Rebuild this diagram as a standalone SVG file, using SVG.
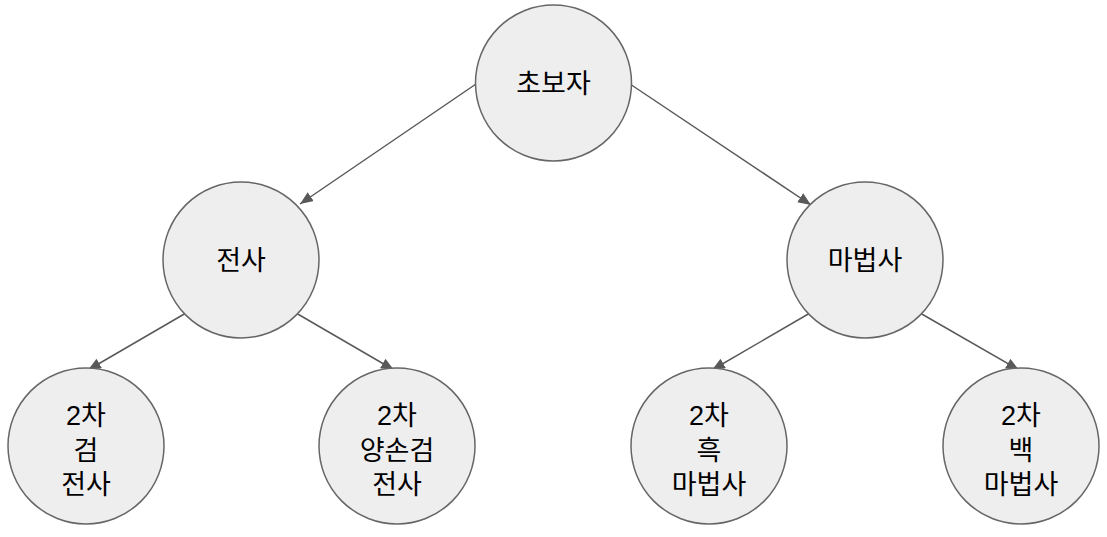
<svg xmlns="http://www.w3.org/2000/svg" width="1107" height="537" viewBox="0 0 1107 537">
<style>
.n{fill:#eeeeee;stroke:#666666;stroke-width:1.5}
.t{font-family:"Liberation Sans","Noto Sans CJK KR",sans-serif;font-size:27px;fill:#000;text-anchor:middle}
.e{stroke:#595959;stroke-width:1.5;fill:none;marker-end:url(#a)}
</style>
<defs>
<marker id="a" viewBox="0 0 12 10" refX="12" refY="5" markerWidth="13" markerHeight="11" markerUnits="userSpaceOnUse" orient="auto"><path d="M0,0L12,5L0,10z" fill="#595959"/></marker>
</defs>
<rect width="1107" height="537" fill="#fff"/>
<g id="edges">
<path class="e" d="M476,84L300,204"/>
<path class="e" d="M630,84L811,205"/>
<path class="e" d="M186,313L88,370"/>
<path class="e" d="M296,313L394,370"/>
<path class="e" d="M810,313L712,370"/>
<path class="e" d="M920,313L1019,370"/>
</g>
<g id="n0"><circle class="n" cx="553.5" cy="83" r="78"/><text class="t" x="553.5" y="93">초보자</text></g>
<g id="n1"><circle class="n" cx="241" cy="260" r="78"/><text class="t" x="241" y="270">전사</text></g>
<g id="n2"><circle class="n" cx="865" cy="260" r="78"/><text class="t" x="865" y="270">마법사</text></g>
<g id="n3"><circle class="n" cx="86" cy="446" r="78"/><text class="t" x="86" y="425">2차</text><text class="t" x="86" y="460">검</text><text class="t" x="86" y="494">전사</text></g>
<g id="n4"><circle class="n" cx="397" cy="446" r="78"/><text class="t" x="397" y="425">2차</text><text class="t" x="397" y="460">양손검</text><text class="t" x="397" y="494">전사</text></g>
<g id="n5"><circle class="n" cx="709" cy="446" r="78"/><text class="t" x="709" y="425">2차</text><text class="t" x="709" y="460">흑</text><text class="t" x="709" y="494">마법사</text></g>
<g id="n6"><circle class="n" cx="1021" cy="446" r="78"/><text class="t" x="1021" y="425">2차</text><text class="t" x="1021" y="460">백</text><text class="t" x="1021" y="494">마법사</text></g>
</svg>
